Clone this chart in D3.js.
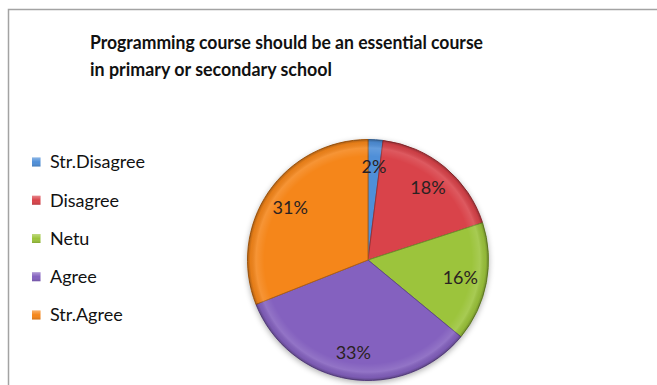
<!DOCTYPE html>
<html>
<head>
<meta charset="utf-8">
<script src="https://cdn.jsdelivr.net/npm/d3@7/dist/d3.min.js"></script>
<style>
  html, body { margin: 0; padding: 0; background: #fff; }
  svg { display: block; }
  text { font-family: Lato, "Open Sans", "DejaVu Sans", sans-serif; }
</style>
</head>
<body>
<svg id="chart" width="657" height="385"></svg>
<script>
// Survey answers: share of respondents per answer (percent)
const categories = ["Str.Disagree", "Disagree", "Netu", "Agree", "Str.Agree"];
const shares = [2, 18, 16, 33, 31];
const titleLines = [
  "Programming course should be an essential course",
  "in primary or secondary school"
];

// Slice colours, in category order
const palette = ["#4f8fd8", "#d9434a", "#9cc43c", "#8461bf", "#f5861a"];

const svg = d3.select("#chart");

// Chart frame
svg.append("rect")
  .attr("x", 8.5).attr("y", 9.5)
  .attr("width", 660).attr("height", 385)
  .attr("fill", "#fff")
  .attr("stroke", "#a3a3a3").attr("stroke-width", 1.5);

// Title
const title = svg.append("text")
  .attr("font-size", 19)
  .attr("font-weight", "bold")
  .attr("fill", "#111");
titleLines.forEach((line, i) => {
  title.append("tspan")
    .attr("x", 90)
    .attr("y", i === 0 ? 49 : 76)
    .attr("textLength", i === 0 ? 393 : 242)
    .attr("lengthAdjust", "spacingAndGlyphs")
    .text(line);
});

const defs = svg.append("defs");

// soft shadow under the pie
const shadow = defs.append("filter").attr("id", "pieShadow")
  .attr("x", "-20%").attr("y", "-20%").attr("width", "140%").attr("height", "140%");
shadow.append("feGaussianBlur").attr("in", "SourceAlpha").attr("stdDeviation", 3);
shadow.append("feOffset").attr("dx", 0).attr("dy", 2).attr("result", "blur");
shadow.append("feComponentTransfer").append("feFuncA").attr("type", "linear").attr("slope", 0.35);

// bevel shading across the pie's rim
const bevel = defs.append("radialGradient").attr("id", "bevel")
  .attr("cx", "50%").attr("cy", "50%").attr("r", "50%");
[[0, "#fff", 0], [0.86, "#fff", 0], [0.93, "#fff", 0.12], [0.975, "#000", 0.06], [1, "#000", 0.28]]
  .forEach(([o, c, a]) => bevel.append("stop")
    .attr("offset", o).attr("stop-color", c).attr("stop-opacity", a));

// legend marker gloss
const gloss = defs.append("linearGradient").attr("id", "gloss")
  .attr("x1", 0).attr("y1", 0).attr("x2", 0).attr("y2", 1);
gloss.append("stop").attr("offset", 0).attr("stop-color", "#fff").attr("stop-opacity", 0.35);
gloss.append("stop").attr("offset", 0.5).attr("stop-color", "#fff").attr("stop-opacity", 0);
gloss.append("stop").attr("offset", 1).attr("stop-color", "#000").attr("stop-opacity", 0.15);

// Pie
const cx = 368, cy = 260, R = 120.5;
const color = d3.scaleOrdinal().domain(categories).range(palette);
const pie = d3.pie().sort(null).value(d => d.value);
const data = pie(categories.map((c, i) => ({ name: c, value: shares[i] })));
const arc = d3.arc().innerRadius(0).outerRadius(R);
const labelArc = d3.arc().innerRadius(R * 0.78).outerRadius(R * 0.78);

const g = svg.append("g").attr("transform", `translate(${cx},${cy})`);

g.append("circle").attr("r", R).attr("fill", "#000").attr("filter", "url(#pieShadow)");

g.selectAll("path.slice")
  .data(data)
  .join("path")
  .attr("class", "slice")
  .attr("d", arc)
  .attr("fill", d => color(d.data.name))
  .attr("stroke", d => d3.color(color(d.data.name)).darker(0.9))
  .attr("stroke-width", 1)
  .attr("stroke-linejoin", "round");

g.append("circle").attr("r", R).attr("fill", "url(#bevel)").attr("pointer-events", "none");

g.selectAll("text.pct")
  .data(data)
  .join("text")
  .attr("class", "pct")
  .attr("transform", d => `translate(${labelArc.centroid(d)})`)
  .attr("text-anchor", "middle")
  .attr("dy", "0.36em")
  .attr("font-size", 18)
  .attr("fill", "#2a2222")
  .text(d => d.data.value + "%");

// Legend
const legendY = d3.scalePoint().domain(categories).range([162, 315]);
const legend = svg.append("g");
const items = legend.selectAll("g")
  .data(categories)
  .join("g")
  .attr("transform", d => `translate(32,${legendY(d)})`);
items.append("rect")
  .attr("x", 0).attr("y", -4.5).attr("width", 8.5).attr("height", 9)
  .attr("fill", d => color(d));
items.append("rect")
  .attr("x", 0).attr("y", -4.5).attr("width", 8.5).attr("height", 9)
  .attr("fill", "url(#gloss)");
items.append("text")
  .attr("x", 18)
  .attr("dy", "0.36em")
  .attr("font-size", 18)
  .attr("fill", "#111")
  .text(d => d);
</script>
</body>
</html>
